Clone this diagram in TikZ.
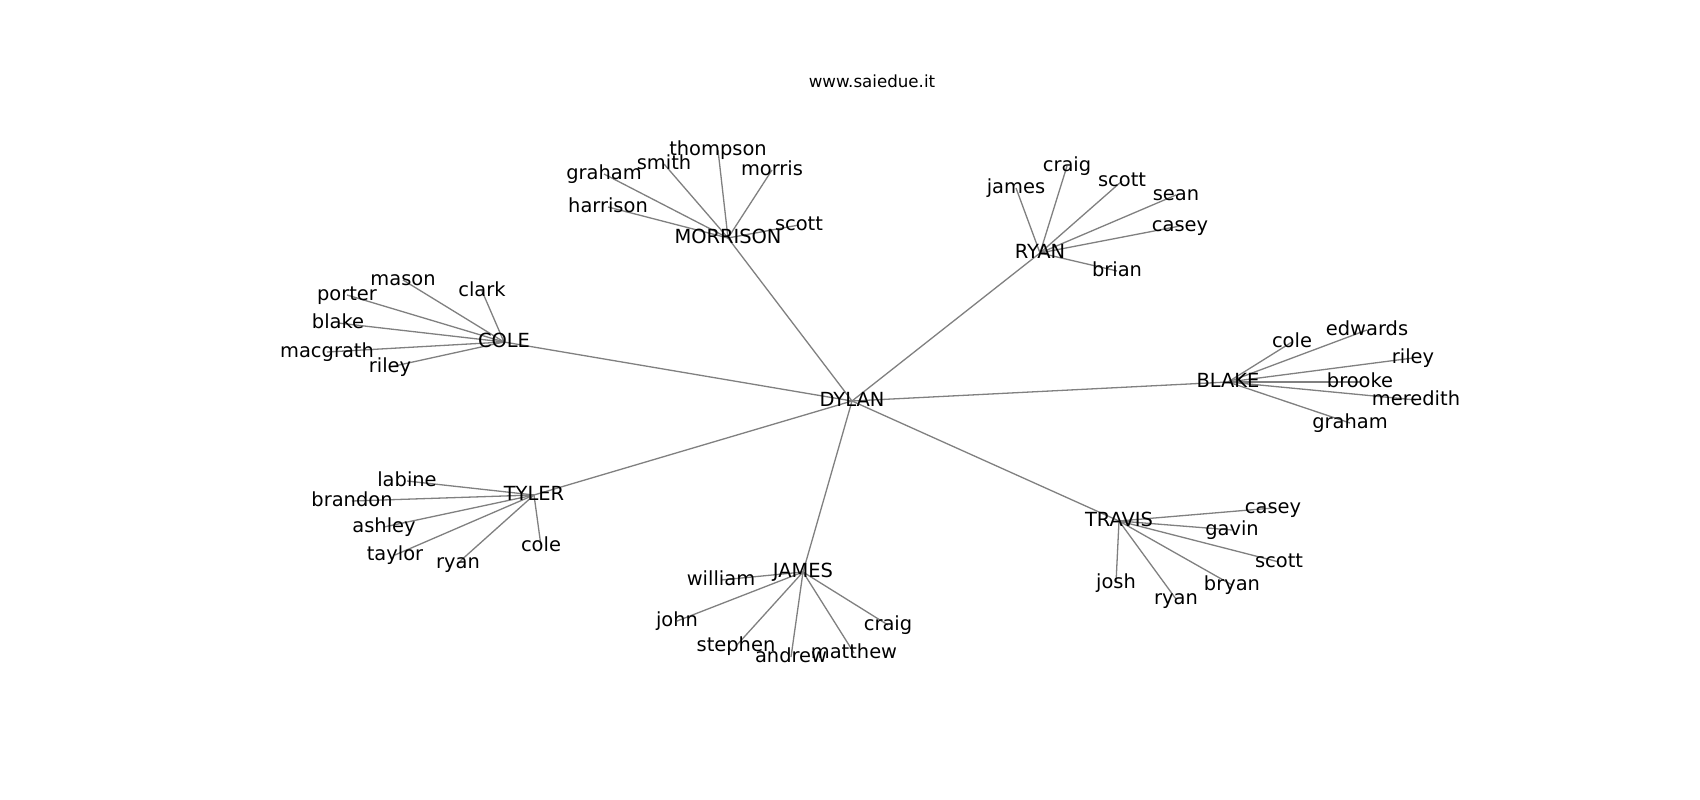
\documentclass[tikz,border=0pt]{standalone}
\usepackage{fontspec}
\setmainfont{DejaVu Sans}
\usetikzlibrary{backgrounds}
\tikzset{
  lbl/.style={font=\fontsize{19.44}{23}\selectfont, inner sep=0pt, text height=14.8pt, text depth=4.0pt, anchor=center, text=black},
  ttl/.style={font=\fontsize{16.67}{20}\selectfont, inner sep=0pt, anchor=base, text=black},
  edge/.style={draw=black!50, line width=1.3pt}
}
\begin{document}
\begin{tikzpicture}[x=1pt, y=-1pt]
\useasboundingbox (0,0) rectangle (1700,800);
\node[ttl] (title) at (872,88) {www.saiedue.it};
% hubs
\node[lbl] (dylan) at (852,401) {DYLAN};
\node[lbl] (morrison) at (728,238) {MORRISON};
\node[lbl] (ryan) at (1040,253) {RYAN};
\node[lbl] (cole) at (504,342) {COLE};
\node[lbl] (blake) at (1228,382) {BLAKE};
\node[lbl] (tyler) at (534,495) {TYLER};
\node[lbl] (james) at (803,572) {JAMES};
\node[lbl] (travis) at (1119,521) {TRAVIS};
% morrison leaves
\node[lbl] (m-thompson) at (718,150) {thompson};
\node[lbl] (m-smith) at (664,164) {smith};
\node[lbl] (m-graham) at (604,174) {graham};
\node[lbl] (m-morris) at (772,170) {morris};
\node[lbl] (m-harrison) at (608,207) {harrison};
\node[lbl] (m-scott) at (799,225) {scott};
% ryan leaves
\node[lbl] (r-james) at (1016,188) {james};
\node[lbl] (r-craig) at (1067,166) {craig};
\node[lbl] (r-scott) at (1122,181) {scott};
\node[lbl] (r-sean) at (1176,195) {sean};
\node[lbl] (r-casey) at (1180,226) {casey};
\node[lbl] (r-brian) at (1117,271) {brian};
% cole leaves
\node[lbl] (c-mason) at (403,280) {mason};
\node[lbl] (c-clark) at (482,291) {clark};
\node[lbl] (c-porter) at (347,295) {porter};
\node[lbl] (c-blake) at (338,323) {blake};
\node[lbl] (c-macgrath) at (327,352) {macgrath};
\node[lbl] (c-riley) at (390,367) {riley};
% blake leaves
\node[lbl] (b-cole) at (1292,342) {cole};
\node[lbl] (b-edwards) at (1367,330) {edwards};
\node[lbl] (b-riley) at (1413,358) {riley};
\node[lbl] (b-brooke) at (1360,382) {brooke};
\node[lbl] (b-meredith) at (1416,400) {meredith};
\node[lbl] (b-graham) at (1350,423) {graham};
% tyler leaves
\node[lbl] (t-labine) at (407,481) {labine};
\node[lbl] (t-brandon) at (352,501) {brandon};
\node[lbl] (t-ashley) at (384,527) {ashley};
\node[lbl] (t-taylor) at (395,555) {taylor};
\node[lbl] (t-ryan) at (458,563) {ryan};
\node[lbl] (t-cole) at (541,546) {cole};
% james leaves
\node[lbl] (j-william) at (721,580) {william};
\node[lbl] (j-john) at (677,621) {john};
\node[lbl] (j-stephen) at (736,646) {stephen};
\node[lbl] (j-andrew) at (791,657) {andrew};
\node[lbl] (j-matthew) at (854,653) {matthew};
\node[lbl] (j-craig) at (888,625) {craig};
% travis leaves
\node[lbl] (v-casey) at (1273,508) {casey};
\node[lbl] (v-gavin) at (1232,530) {gavin};
\node[lbl] (v-scott) at (1279,562) {scott};
\node[lbl] (v-josh) at (1116,583) {josh};
\node[lbl] (v-ryan) at (1176,599) {ryan};
\node[lbl] (v-bryan) at (1232,585) {bryan};
\begin{scope}[on background layer]
\fill[white] (0,0) rectangle (1700,800);
\foreach \h in {morrison,ryan,cole,blake,tyler,james,travis}
  \draw[edge] (dylan.center) -- (\h.center);
\foreach \l in {m-thompson,m-smith,m-graham,m-morris,m-harrison,m-scott}
  \draw[edge] (morrison.center) -- (\l.center);
\foreach \l in {r-james,r-craig,r-scott,r-sean,r-casey,r-brian}
  \draw[edge] (ryan.center) -- (\l.center);
\foreach \l in {c-mason,c-clark,c-porter,c-blake,c-macgrath,c-riley}
  \draw[edge] (cole.center) -- (\l.center);
\foreach \l in {b-cole,b-edwards,b-riley,b-brooke,b-meredith,b-graham}
  \draw[edge] (blake.center) -- (\l.center);
\foreach \l in {t-labine,t-brandon,t-ashley,t-taylor,t-ryan,t-cole}
  \draw[edge] (tyler.center) -- (\l.center);
\foreach \l in {j-william,j-john,j-stephen,j-andrew,j-matthew,j-craig}
  \draw[edge] (james.center) -- (\l.center);
\foreach \l in {v-casey,v-gavin,v-scott,v-josh,v-ryan,v-bryan}
  \draw[edge] (travis.center) -- (\l.center);
\end{scope}
\end{tikzpicture}
\end{document}
